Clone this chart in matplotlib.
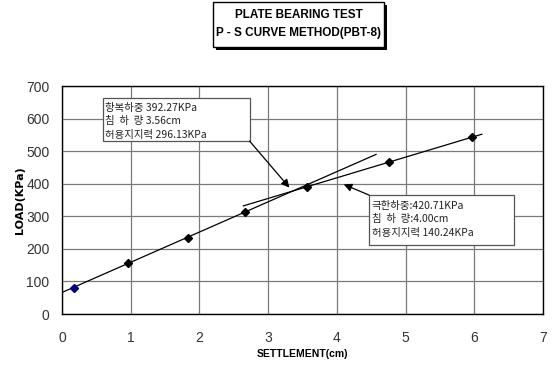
import matplotlib
matplotlib.use('Agg')
import matplotlib.pyplot as plt
from matplotlib.patches import Rectangle

# Korean labels need a CJK family
plt.rcParams['font.family'] = ['Noto Sans CJK KR', 'DejaVu Sans']
narrow = ['Liberation Sans Narrow', 'Liberation Sans', 'DejaVu Sans']

# measured settlement (cm) and load (KPa)
settlement = [0.18, 0.96, 1.84, 2.67, 3.57, 4.76, 5.96]
load = [79, 156, 232, 312, 389, 466, 543]

# initial slope line and later slope line
line1_x = [0.02, 4.57]
line1_y = [68, 490]
line2_x = [2.64, 6.11]
line2_y = [332, 552]

yield_lines = ['항복하중 392.27KPa', '침  하  량 3.56cm', '허용지지력 296.13KPa']
ult_lines = ['극한하중:420.71KPa', '침  하  량:4.00cm', '허용지지력 140.24KPa']

fig = plt.figure(figsize=(5.56, 3.74), dpi=100)
ax = fig.add_axes([0.1115, 0.1604, 0.8651, 0.6096])

ax.plot(line1_x, line1_y, color='black', lw=0.9, zorder=3)
ax.plot(line2_x, line2_y, color='black', lw=0.9, zorder=3)
ax.plot(settlement[1:], load[1:], ls='none', marker='D', ms=4, color='black', zorder=4)
ax.plot(settlement[:1], load[:1], ls='none', marker='D', ms=4, color='#000080', zorder=4)

ax.set_xlim(0, 7)
ax.set_ylim(0, 700)
ax.set_xticks(range(0, 8))
ax.set_yticks(range(0, 701, 100))
ax.grid(True, color='#7a7a7a', lw=0.9)
ax.set_axisbelow(True)
ax.tick_params(length=0, labelsize=10, colors='#333333')
ax.tick_params(axis='y', pad=9)
ax.tick_params(axis='x', pad=12)
for lab in ax.get_xticklabels() + ax.get_yticklabels():
    lab.set_family(narrow)
for s in ax.spines.values():
    s.set_color('black')
    s.set_linewidth(1.0)

ax.set_xlabel('SETTLEMENT(cm)', fontsize=7.5, fontweight='bold', family=narrow, labelpad=3)
ax.set_ylabel('LOAD(KPa)', fontsize=8, fontweight='bold', family=['DejaVu Sans'], labelpad=1)

# annotation boxes
ax.add_patch(Rectangle((0.59, 531), 2.14, 131, fc='white', ec='#555555', lw=0.9, zorder=5))
ax.add_patch(Rectangle((4.47, 212), 2.11, 153, fc='white', ec='#555555', lw=0.9, zorder=5))
for txt, yy in zip(yield_lines, [634, 593, 551]):
    ax.text(0.63, yy, txt, fontsize=7.5, va='center', ha='left', color='#222222', zorder=6)
for txt, yy in zip(ult_lines, [333, 292, 250]):
    ax.text(4.51, yy, txt, fontsize=7.5, va='center', ha='left', color='#222222', zorder=6)

arrow = dict(arrowstyle='-|>', color='black', lw=0.9, mutation_scale=12,
             shrinkA=0, shrinkB=0)
ax.annotate('', xy=(3.31, 388), xytext=(2.73, 531), arrowprops=arrow, zorder=6)
ax.annotate('', xy=(4.10, 398), xytext=(4.47, 365), arrowprops=arrow, zorder=6)

# title box with drop shadow
fig.patches.append(Rectangle((0.388, 0.867), 0.3076, 0.1203, transform=fig.transFigure,
                             fc='black', ec='none', zorder=1))
fig.patches.append(Rectangle((0.383, 0.8743), 0.3076, 0.1203, transform=fig.transFigure,
                             fc='white', ec='black', lw=1.0, zorder=2))
fig.text(0.537, 0.96, 'PLATE BEARING TEST', ha='center', va='center',
         fontsize=8.5, fontweight='bold', family=narrow, zorder=3)
fig.text(0.537, 0.912, 'P - S CURVE METHOD(PBT-8)', ha='center', va='center',
         fontsize=8.5, fontweight='bold', family=narrow, zorder=3)

fig.savefig('out.png', dpi=100)
